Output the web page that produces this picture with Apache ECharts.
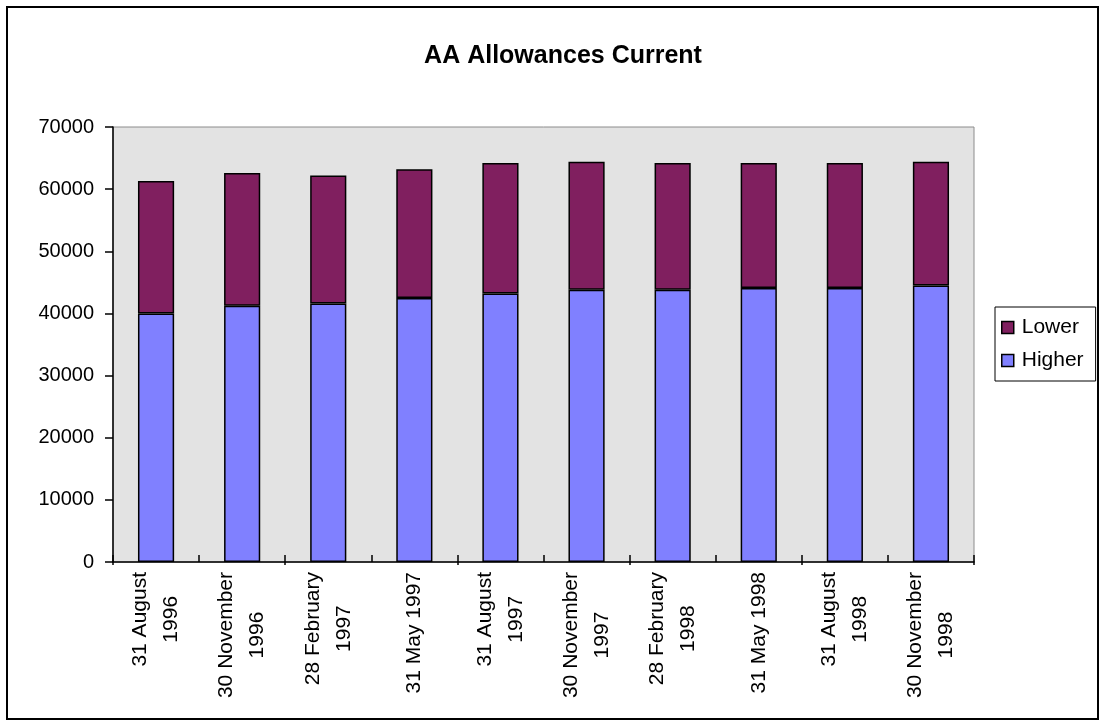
<!DOCTYPE html>
<html>
<head>
<meta charset="utf-8">
<script src="https://cdn.jsdelivr.net/npm/echarts@6/dist/echarts.min.js"></script>
<style>
html,body{margin:0;padding:0;background:#fff;}
#chart{width:1105px;height:726px;}
</style>
</head>
<body>
<div id="chart"></div>
<script>
var titleText = 'AA Allowances Current';
var categories = [
  '31 August\n1996', '30 November\n1996', '28 February\n1997', '31 May 1997',
  '31 August\n1997', '30 November\n1997', '28 February\n1998', '31 May 1998',
  '31 August\n1998', '30 November\n1998'
];
var higher = [40000, 41250, 41600, 42500, 43200, 43800, 43800, 44100, 44100, 44500];
var lower  = [21300, 21350, 20600, 20700, 21000, 20600, 20400, 20100, 20100, 19900];
var yTicks = { min: 0, max: 70000, interval: 10000 };

var FONT = 'Liberation Sans, Arial, sans-serif';
var chart = echarts.init(document.getElementById('chart'), null, { renderer: 'canvas' });
chart.setOption({
  animation: false,
  backgroundColor: '#ffffff',
  graphic: [{
    type: 'rect', z: 100, silent: true,
    shape: { x: 7, y: 7, width: 1091, height: 712 },
    style: { fill: 'none', stroke: '#000', lineWidth: 2 }
  }],
  title: {
    text: titleText,
    left: 558, top: 39, textAlign: 'center',
    textStyle: { fontFamily: FONT, fontWeight: 'bold', fontSize: 25, color: '#000' }
  },
  legend: {
    orient: 'vertical',
    left: 995, top: 307,
    data: ['Lower', 'Higher'],
    icon: 'rect',
    itemWidth: 12, itemHeight: 12, itemGap: 12,
    padding: [10, 12, 10, 6],
    borderColor: '#000', borderWidth: 1,
    textStyle: { fontFamily: FONT, fontSize: 21, color: '#000', padding: [0, 0, 0, 3] },
    itemStyle: { borderColor: '#000', borderWidth: 1.5 }
  },
  grid: {
    left: 113, right: 131, top: 127, bottom: 164,
    show: true, backgroundColor: '#e3e3e3', borderColor: '#8c8c8c', borderWidth: 1
  },
  xAxis: [{
    type: 'category',
    data: categories,
    axisLine: { lineStyle: { color: '#000', width: 1.5 } },
    axisTick: { show: true, inside: true, length: 7, lineStyle: { color: '#000', width: 1.5 } },
    axisLabel: {
      rotate: 90, margin: 10, interval: 0,
      fontFamily: FONT, fontSize: 21, color: '#000', lineHeight: 31,
      formatter: function (v) {
        return v.split('\n').map(function (s) { return '{c|' + s + '}'; }).join('\n');
      },
      rich: { c: { align: 'center', fontFamily: FONT, fontSize: 21, color: '#000', lineHeight: 31 } }
    }
  }, {
    type: 'category',
    position: 'bottom',
    data: categories,
    axisLine: { show: false },
    axisTick: { show: true, length: 3, lineStyle: { color: '#000', width: 1.5 } },
    axisLabel: { show: false },
    splitLine: { show: false }
  }],
  yAxis: {
    type: 'value',
    min: yTicks.min, max: yTicks.max, interval: yTicks.interval,
    axisLine: { show: true, lineStyle: { color: '#000', width: 1.5 } },
    axisTick: { show: true, length: 8, lineStyle: { color: '#000', width: 1.5 } },
    splitLine: { show: false },
    axisLabel: {
      margin: 19, fontFamily: FONT, fontSize: 20, color: '#000',
      formatter: function (v) { return String(v); }
    }
  },
  series: [
    {
      name: 'Higher', type: 'bar', stack: 'total', data: higher, barWidth: '42%',
      itemStyle: { color: '#8080ff', borderColor: '#000', borderWidth: 1.5 }
    },
    {
      name: 'Lower', type: 'bar', stack: 'total', data: lower, barWidth: '42%',
      itemStyle: { color: '#801f5f', borderColor: '#000', borderWidth: 1.5 }
    }
  ]
});
</script>
</body>
</html>
